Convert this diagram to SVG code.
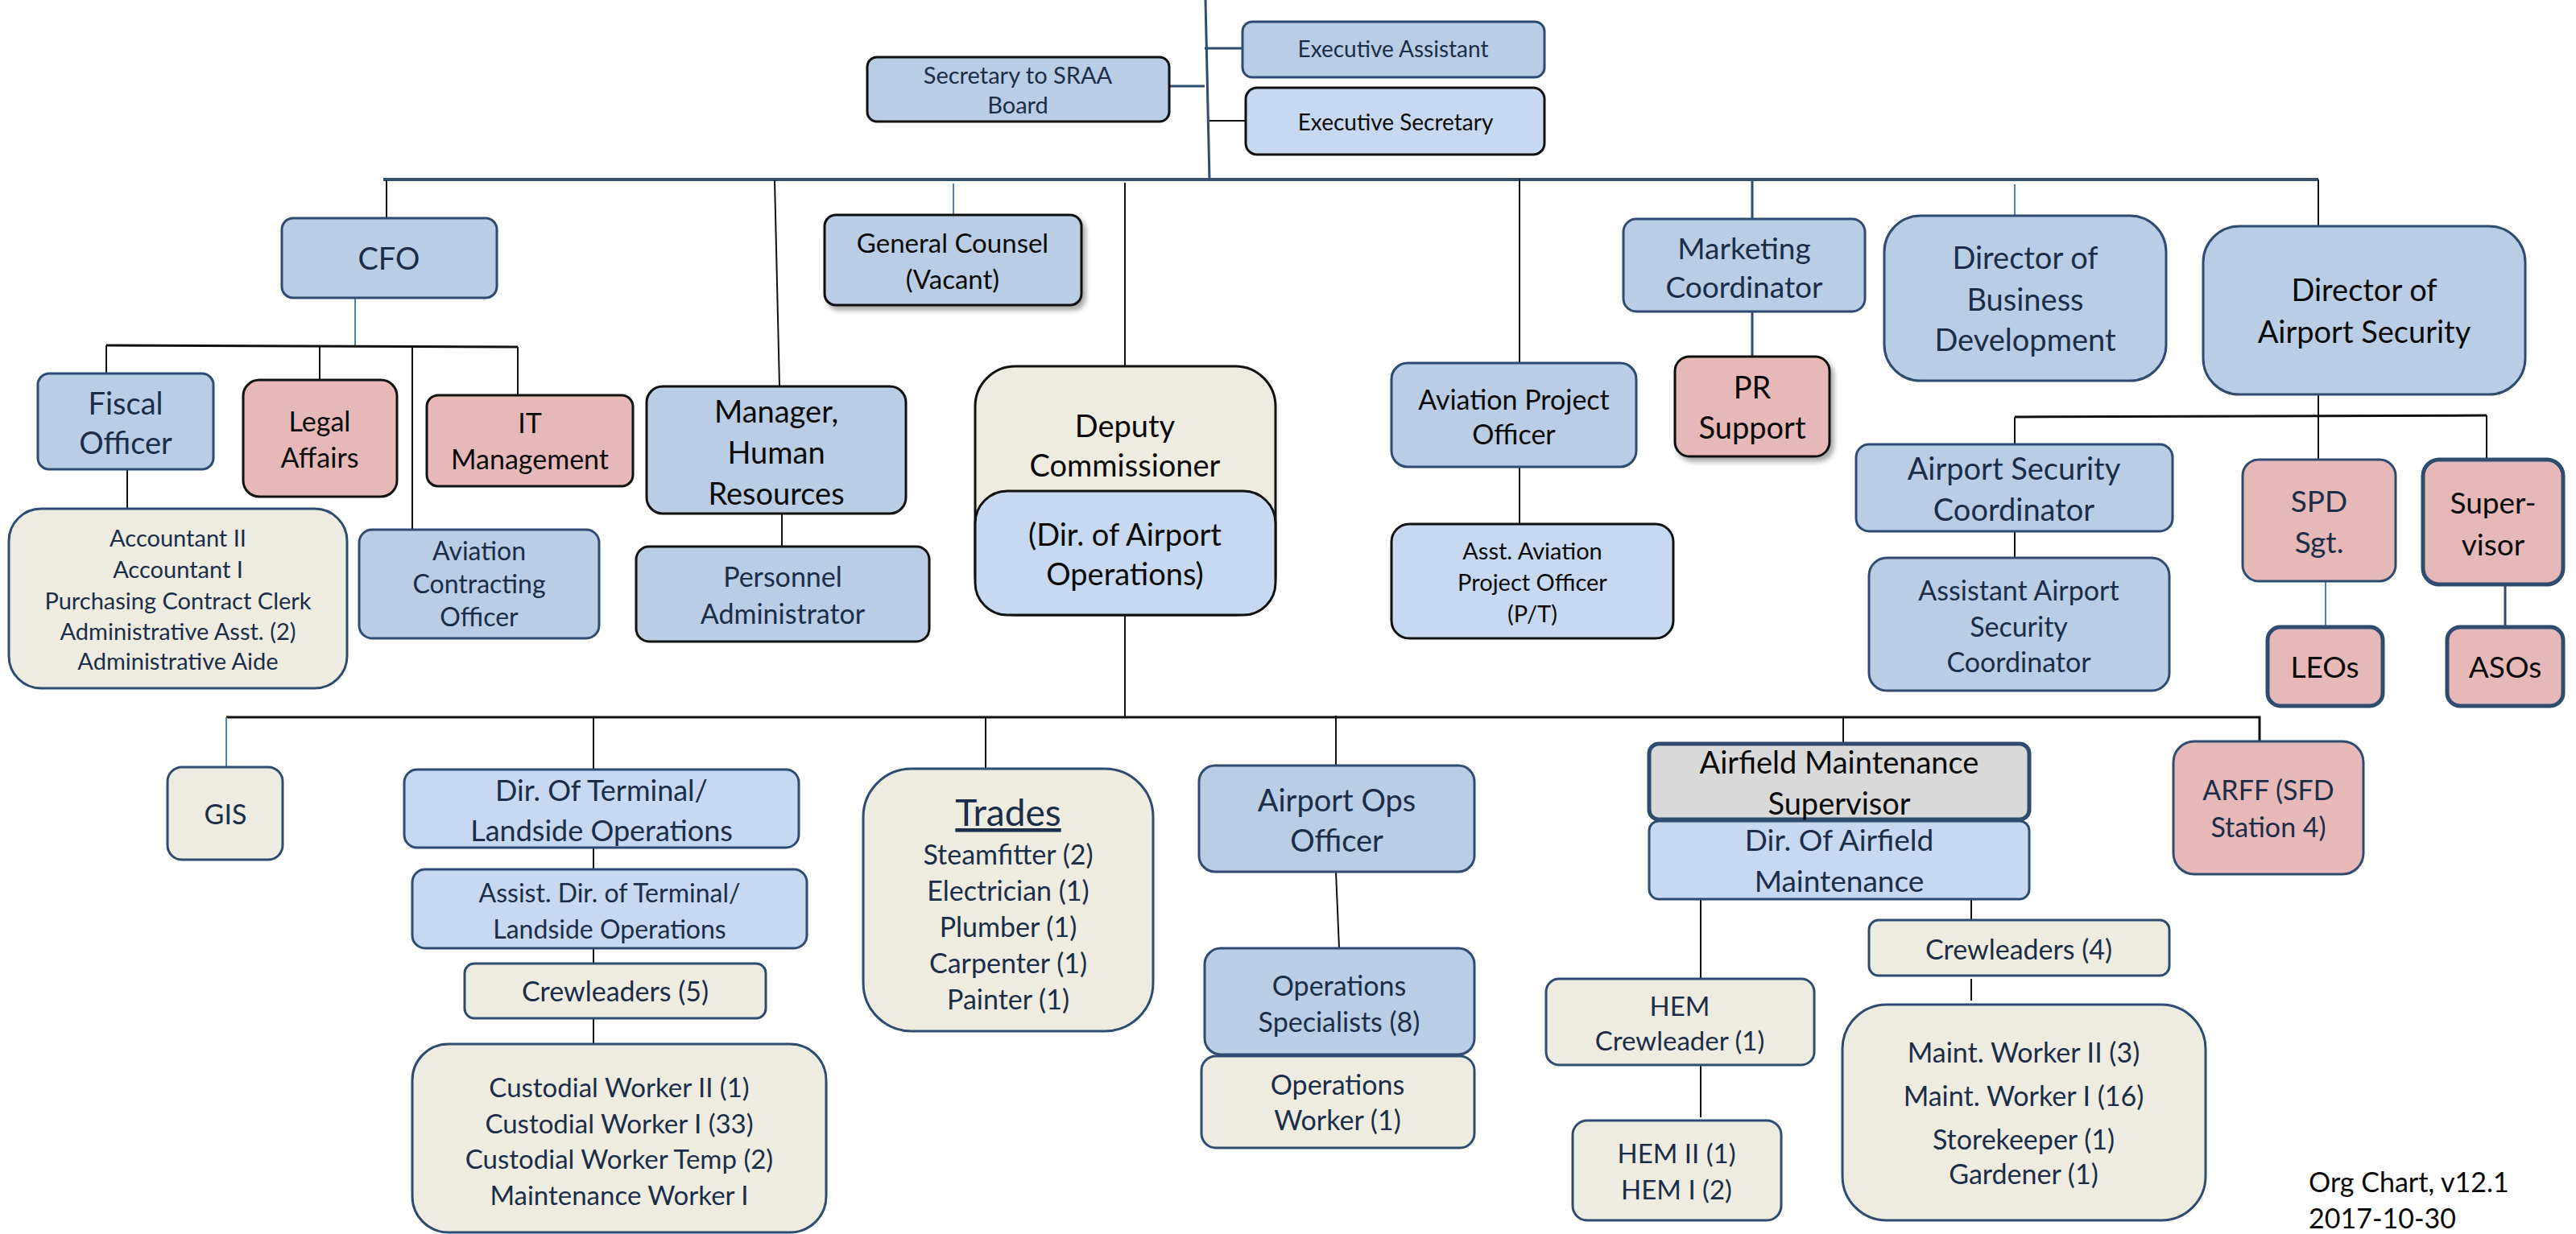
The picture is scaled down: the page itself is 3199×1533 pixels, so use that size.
<svg xmlns="http://www.w3.org/2000/svg" width="3199" height="1533" viewBox="0 0 3199 1533">
<style>
.n{stroke:#2F4B70;stroke-width:3}
.k{stroke:#111;stroke-width:3}
.w5{stroke-width:5}
.b1{fill:#B9CDE5}
.b2{fill:#C6D9F1}
.bg{fill:#EEECE1}
.pk{fill:#E6B9B8}
.gr{fill:#D9D9D9}
text{font-family:Lato,"Liberation Sans",sans-serif;text-anchor:middle;fill:#1B2D47}
.tk{fill:#0A0A0A}
.c{stroke:#111;stroke-width:2;fill:none}
.cd{stroke:#2F4B70;stroke-width:3;fill:none}
.cl{stroke:#4F81BD;stroke-width:2;fill:none}
.bar{stroke:#34506F;stroke-width:4;fill:none}
.bar2{stroke:#111;stroke-width:3;fill:none}
</style>
<defs>
<filter id="sh" x="-10%" y="-10%" width="130%" height="130%">
<feDropShadow dx="4" dy="5" stdDeviation="3" flood-color="#000" flood-opacity="0.35"/>
</filter>
</defs>
<g id="connectors">
<path class="cd" d="M1497 0 L1502 223"/>
<path class="cd" d="M1496 60 H1543"/>
<path class="cd" d="M1452 107 H1496"/>
<path class="c" d="M1502 150 H1547"/>
<path class="bar" d="M476 223 H2879"/>
<path class="c" d="M2879 223 V281"/>
<path class="c" d="M480 224 V271"/>
<path class="c" d="M962 224 L968 480"/>
<path class="cl" d="M1184 228 V267"/>
<path class="c" d="M1397 227 V455"/>
<path class="c" d="M1887 222 V451"/>
<path class="cd" d="M2176 222 V272"/>
<path class="cd" d="M2176 387 V443"/>
<path class="cl" d="M2502 229 V268"/>
<path class="cl" d="M441 370 V430"/>
<path class="bar2" d="M132 429 L643 431"/>
<path class="c" d="M132 429 V464 M397 430 V472 M512 430 V658 M643 431 V491"/>
<path class="c" d="M158 583 V632"/>
<path class="c" d="M971 638 V679"/>
<path class="c" d="M1397 764 V891"/>
<path class="c" d="M1887 580 V651"/>
<path class="c" d="M2879 490 V571"/>
<path class="bar2" d="M2502 518 L3088 516"/>
<path class="c" d="M2502 518 V552 M3088 516 V571"/>
<path class="c" d="M2502 660 V693"/>
<path class="cl" d="M2888 722 V779"/>
<path class="cd" d="M3111 726 V779"/>
<path class="bar2" d="M281 891 H2806 V924"/>
<path class="cl" d="M281 891 V953"/>
<path class="c" d="M737 891 V956"/>
<path class="c" d="M1224 891 V955"/>
<path class="c" d="M1659 889 V951"/>
<path class="c" d="M2289 891 V924"/>
<path class="c" d="M737 1053 V1080 M737 1178 V1197 M737 1265 V1297"/>
<path class="c" d="M1659 1083 L1663 1178"/>
<path class="c" d="M2112 1117 V1216 M2112 1323 V1388"/>
<path class="c" d="M2448 1118 V1143 M2448 1216 V1243"/>
</g>
<g id="secretary-sraa"><rect class="b1 k" x="1077" y="71" width="375" height="80" rx="12"/><text font-size="29"><tspan x="1264" y="104">Secretary to SRAA</tspan><tspan x="1264" y="141">Board</tspan></text></g>
<g id="executive-assistant"><rect class="b1 n" x="1543" y="27" width="375" height="69" rx="12"/><text font-size="28" x="1730" y="71">Executive Assistant</text></g>
<g id="executive-secretary"><rect class="b2 k" x="1547" y="109" width="371" height="83" rx="14"/><text class="tk" font-size="28" x="1733" y="162">Executive Secretary</text></g>
<g id="cfo"><rect class="b1 n" x="350" y="271" width="267" height="99" rx="14"/><text font-size="38" x="483" y="335">CFO</text></g>
<g id="general-counsel"><rect class="b1 k" x="1024" y="267" width="319" height="112" rx="14" filter="url(#sh)"/><text class="tk" font-size="33"><tspan x="1183" y="314">General Counsel</tspan><tspan x="1183" y="359">(Vacant)</tspan></text></g>
<g id="marketing-coordinator"><rect class="b1 n" x="2016" y="272" width="300" height="115" rx="16"/><text font-size="37"><tspan x="2166" y="322">Marketing</tspan><tspan x="2166" y="370">Coordinator</tspan></text></g>
<g id="director-business-development"><rect class="b1 n" x="2340" y="268" width="350" height="205" rx="45"/><text font-size="38"><tspan x="2515" y="334">Director of</tspan><tspan x="2515" y="386">Business</tspan><tspan x="2515" y="436">Development</tspan></text></g>
<g id="director-airport-security"><rect class="b1 n" x="2736" y="281" width="400" height="209" rx="45"/><text class="tk" font-size="38"><tspan x="2936" y="374">Director of</tspan><tspan x="2936" y="426">Airport Security</tspan></text></g>
<g id="fiscal-officer"><rect class="b1 n" x="47" y="464" width="218" height="119" rx="14"/><text font-size="38"><tspan x="156" y="515">Fiscal</tspan><tspan x="156" y="564">Officer</tspan></text></g>
<g id="legal-affairs"><rect class="pk k" x="302" y="472" width="191" height="145" rx="20"/><text class="tk" font-size="34"><tspan x="397" y="536">Legal</tspan><tspan x="397" y="581">Affairs</tspan></text></g>
<g id="it-management"><rect class="pk k" x="530" y="491" width="256" height="113" rx="14"/><text class="tk" font-size="34"><tspan x="658" y="538">IT</tspan><tspan x="658" y="583">Management</tspan></text></g>
<g id="manager-hr"><rect class="b1 k" x="803" y="480" width="322" height="158" rx="20"/><text class="tk" font-size="38"><tspan x="964" y="525">Manager,</tspan><tspan x="964" y="576">Human</tspan><tspan x="964" y="627">Resources</tspan></text></g>
<g id="personnel-administrator"><rect class="b1 k" x="790" y="679" width="364" height="118" rx="16"/><text font-size="34"><tspan x="972" y="729">Personnel</tspan><tspan x="972" y="775">Administrator</tspan></text></g>
<g id="accountants"><rect class="bg n" x="11" y="632" width="420" height="223" rx="40"/><text font-size="29"><tspan x="221" y="679">Accountant II</tspan><tspan x="221" y="718">Accountant I</tspan><tspan x="221" y="757">Purchasing Contract Clerk</tspan><tspan x="221" y="795">Administrative Asst. (2)</tspan><tspan x="221" y="832">Administrative Aide</tspan></text></g>
<g id="aviation-contracting-officer"><rect class="b1 n" x="446" y="658" width="298" height="135" rx="16"/><text font-size="32"><tspan x="595" y="696">Aviation</tspan><tspan x="595" y="737">Contracting</tspan><tspan x="595" y="778">Officer</tspan></text></g>
<g id="deputy-commissioner"><rect class="bg k" x="1211" y="455" width="373" height="309" rx="50"/><text class="tk" font-size="38"><tspan x="1397" y="543">Deputy</tspan><tspan x="1397" y="592">Commissioner</tspan></text><rect class="b2 k" x="1211" y="610" width="373" height="154" rx="40"/><text class="tk" font-size="38"><tspan x="1397" y="678">(Dir. of Airport</tspan><tspan x="1397" y="727">Operations)</tspan></text></g>
<g id="aviation-project-officer"><rect class="b1 n" x="1728" y="451" width="304" height="129" rx="20"/><text class="tk" font-size="34"><tspan x="1880" y="509">Aviation Project</tspan><tspan x="1880" y="552">Officer</tspan></text></g>
<g id="asst-aviation-project-officer"><rect class="b2 k" x="1728" y="651" width="350" height="142" rx="22"/><text class="tk" font-size="29"><tspan x="1903" y="695">Asst. Aviation</tspan><tspan x="1903" y="734">Project Officer</tspan><tspan x="1903" y="773">(P/T)</tspan></text></g>
<g id="pr-support"><rect class="pk k" x="2080" y="443" width="192" height="124" rx="18" filter="url(#sh)"/><text class="tk" font-size="38"><tspan x="2176" y="495">PR</tspan><tspan x="2176" y="545">Support</tspan></text></g>
<g id="airport-security-coordinator"><rect class="b1 n" x="2305" y="552" width="393" height="108" rx="16"/><text font-size="38"><tspan x="2501" y="596">Airport Security</tspan><tspan x="2501" y="647">Coordinator</tspan></text></g>
<g id="assistant-airport-security-coordinator"><rect class="b1 n" x="2321" y="693" width="373" height="165" rx="22"/><text font-size="34"><tspan x="2507" y="746">Assistant Airport</tspan><tspan x="2507" y="791">Security</tspan><tspan x="2507" y="835">Coordinator</tspan></text></g>
<g id="spd-sgt"><rect class="pk n" x="2785" y="571" width="190" height="151" rx="20"/><text font-size="37"><tspan x="2880" y="636">SPD</tspan><tspan x="2880" y="687">Sgt.</tspan></text></g>
<g id="leos"><rect class="pk n w5" x="2816" y="779" width="143" height="98" rx="16"/><text class="tk" font-size="37" x="2887" y="842">LEOs</text></g>
<g id="supervisor"><rect class="pk n w5" x="3009" y="571" width="174" height="155" rx="20"/><text class="tk" font-size="37"><tspan x="3096" y="638">Super-</tspan><tspan x="3096" y="690">visor</tspan></text></g>
<g id="asos"><rect class="pk n w5" x="3039" y="779" width="144" height="98" rx="16"/><text class="tk" font-size="37" x="3111" y="842">ASOs</text></g>
<g id="gis"><rect class="bg n" x="208" y="953" width="143" height="115" rx="18"/><text font-size="34" x="280" y="1024">GIS</text></g>
<g id="dir-terminal"><rect class="b2 n" x="502" y="956" width="490" height="97" rx="16"/><text font-size="36"><tspan x="747" y="995">Dir. Of Terminal/</tspan><tspan x="747" y="1045">Landside Operations</tspan></text></g>
<g id="assist-dir-terminal"><rect class="b2 n" x="512" y="1080" width="490" height="98" rx="16"/><text font-size="32"><tspan x="757" y="1121">Assist. Dir. of Terminal/</tspan><tspan x="757" y="1166">Landside Operations</tspan></text></g>
<g id="crewleaders-5"><rect class="bg n" x="577" y="1197" width="374" height="68" rx="12"/><text font-size="34" x="764" y="1244">Crewleaders (5)</text></g>
<g id="custodial"><rect class="bg n" x="512" y="1297" width="514" height="234" rx="45"/><text font-size="33"><tspan x="769" y="1363">Custodial Worker II (1)</tspan><tspan x="769" y="1408">Custodial Worker I (33)</tspan><tspan x="769" y="1452">Custodial Worker Temp (2)</tspan><tspan x="769" y="1497">Maintenance Worker I</tspan></text></g>
<g id="trades"><rect class="bg n" x="1072" y="955" width="360" height="326" rx="60"/><text font-size="46" x="1252" y="1026" text-decoration="underline">Trades</text><text font-size="34"><tspan x="1252" y="1074">Steamfitter (2)</tspan><tspan x="1252" y="1119">Electrician (1)</tspan><tspan x="1252" y="1164">Plumber (1)</tspan><tspan x="1252" y="1209">Carpenter (1)</tspan><tspan x="1252" y="1254">Painter (1)</tspan></text></g>
<g id="airport-ops-officer"><rect class="b1 n" x="1489" y="951" width="342" height="132" rx="20"/><text font-size="38"><tspan x="1660" y="1008">Airport Ops</tspan><tspan x="1660" y="1058">Officer</tspan></text></g>
<g id="operations-specialists"><rect class="b1 n" stroke-width="4" x="1496" y="1178" width="335" height="132" rx="20"/><text font-size="34"><tspan x="1663" y="1237">Operations</tspan><tspan x="1663" y="1282">Specialists (8)</tspan></text></g>
<g id="operations-worker"><rect class="bg n" x="1492" y="1312" width="339" height="114" rx="18"/><text font-size="34"><tspan x="1661" y="1360">Operations</tspan><tspan x="1661" y="1404">Worker (1)</tspan></text></g>
<g id="airfield-maintenance-supervisor"><rect class="gr n w5" x="2048" y="924" width="472" height="94" rx="12"/><text class="tk" font-size="38"><tspan x="2284" y="961">Airfield Maintenance</tspan><tspan x="2284" y="1012">Supervisor</tspan></text></g>
<g id="dir-airfield-maintenance"><rect class="b2 n" x="2048" y="1020" width="472" height="97" rx="12"/><text font-size="37"><tspan x="2284" y="1057">Dir. Of Airfield</tspan><tspan x="2284" y="1108">Maintenance</tspan></text></g>
<g id="hem-crewleader"><rect class="bg n" x="1920" y="1216" width="333" height="107" rx="16"/><text font-size="33"><tspan x="2086" y="1262">HEM</tspan><tspan x="2086" y="1305">Crewleader (1)</tspan></text></g>
<g id="hem-workers"><rect class="bg n" x="1953" y="1392" width="259" height="124" rx="18"/><text font-size="33"><tspan x="2082" y="1445">HEM II (1)</tspan><tspan x="2082" y="1490">HEM I (2)</tspan></text></g>
<g id="crewleaders-4"><rect class="bg n" x="2321" y="1143" width="373" height="69" rx="12"/><text font-size="34" x="2507" y="1192">Crewleaders (4)</text></g>
<g id="maint-workers"><rect class="bg n" x="2288" y="1248" width="451" height="268" rx="55"/><text font-size="34"><tspan x="2513" y="1320">Maint. Worker II (3)</tspan><tspan x="2513" y="1374">Maint. Worker I (16)</tspan><tspan x="2513" y="1428">Storekeeper (1)</tspan><tspan x="2513" y="1471">Gardener (1)</tspan></text></g>
<g id="arff"><rect class="pk n" x="2699" y="921" width="236" height="165" rx="26"/><text font-size="34"><tspan x="2817" y="994">ARFF (SFD</tspan><tspan x="2817" y="1040">Station 4)</tspan></text></g>
<text class="tk" font-size="34" style="text-anchor:start"><tspan x="2867" y="1481">Org Chart, v12.1</tspan><tspan x="2867" y="1526">2017-10-30</tspan></text>
</svg>
